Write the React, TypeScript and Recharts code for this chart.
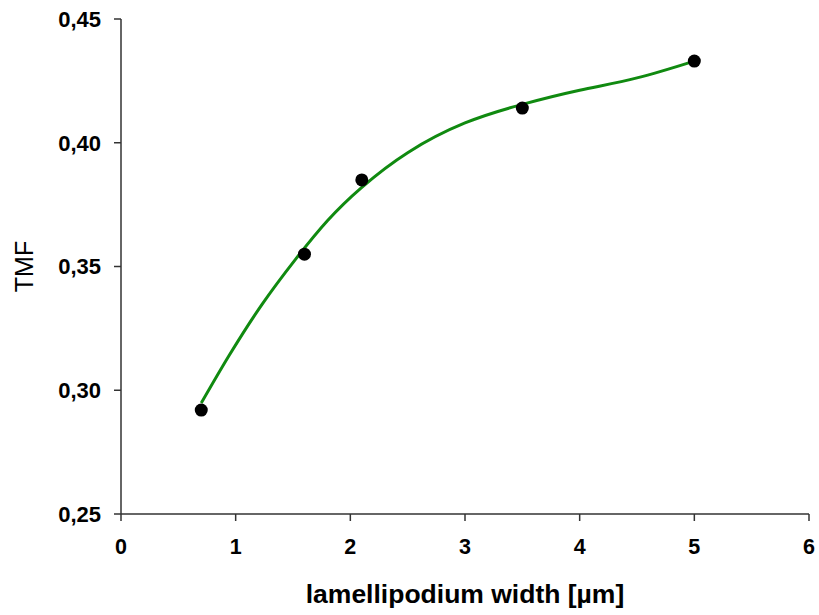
import React from "react";
import {
  ComposedChart,
  Line,
  Scatter,
  XAxis,
  YAxis,
  Label,
} from "recharts";

// measured points (lamellipodium width in µm vs TMF)
const pointX = [0.7, 1.6, 2.1, 3.5, 5.0];
const pointY = [0.292, 0.355, 0.385, 0.414, 0.433];

// fitted curve
const curveX = [0.7, 0.94, 1.23, 1.52, 1.8, 2.1, 2.5, 3.0, 3.5, 4.0, 4.5, 5.0];
const curveY = [0.2948, 0.3138, 0.3347, 0.3528, 0.3685, 0.382, 0.396, 0.408, 0.4155, 0.4212, 0.4262, 0.433];

const xTicks = [0, 1, 2, 3, 4, 5, 6];
const yTicks = [0.25, 0.3, 0.35, 0.4, 0.45];

const points = pointX.map((x, i) => ({ x, y: pointY[i] }));
const curve = curveX.map((x, i) => ({ x, y: curveY[i] }));

const font = '"Liberation Sans", Arial, sans-serif';
const axisColor = "#333";

const Dot = (props: any) => <circle cx={props.cx} cy={props.cy} r={6.5} fill="#000" />;

export default function App() {
  return (
    <div style={{ position: "absolute", left: 0, top: 0, width: 819, height: 615, background: "#fff" }}>
      <ComposedChart width={819} height={615} margin={{ top: 19, right: 10, bottom: 0, left: 0 }}>
        <XAxis
          type="number"
          dataKey="x"
          domain={[0, 6]}
          ticks={xTicks}
          allowDataOverflow
          height={101}
          tickSize={7}
          tickMargin={18}
          stroke={axisColor}
          strokeWidth={1.5}
          tick={{ fill: "#000", fontSize: 21.5, fontWeight: "bold", fontFamily: font }}
        >
          <Label
            value="lamellipodium width [µm]"
            position="insideBottom"
            offset={12}
            style={{ fill: "#000", fontSize: 26.5, fontWeight: "bold", fontFamily: font }}
          />
        </XAxis>
        <YAxis
          type="number"
          dataKey="y"
          domain={[0.25, 0.45]}
          ticks={yTicks}
          allowDataOverflow
          width={121}
          tickSize={7}
          tickMargin={13}
          stroke={axisColor}
          strokeWidth={1.5}
          tickFormatter={(v: number) => v.toFixed(2).replace(".", ",")}
          tick={{ fill: "#000", fontSize: 22, fontWeight: "bold", fontFamily: font }}
        >
          <Label
            value="TMF"
            angle={-90}
            position="insideLeft"
            offset={24}
            style={{ fill: "#000", fontSize: 25, fontFamily: font, textAnchor: "middle" }}
          />
        </YAxis>
        <Line
          data={curve}
          dataKey="y"
          type="natural"
          stroke="#108a10"
          strokeWidth={3}
          dot={false}
          activeDot={false}
          isAnimationActive={false}
        />
        <Scatter data={points} dataKey="y" shape={Dot} isAnimationActive={false} />
      </ComposedChart>
    </div>
  );
}
